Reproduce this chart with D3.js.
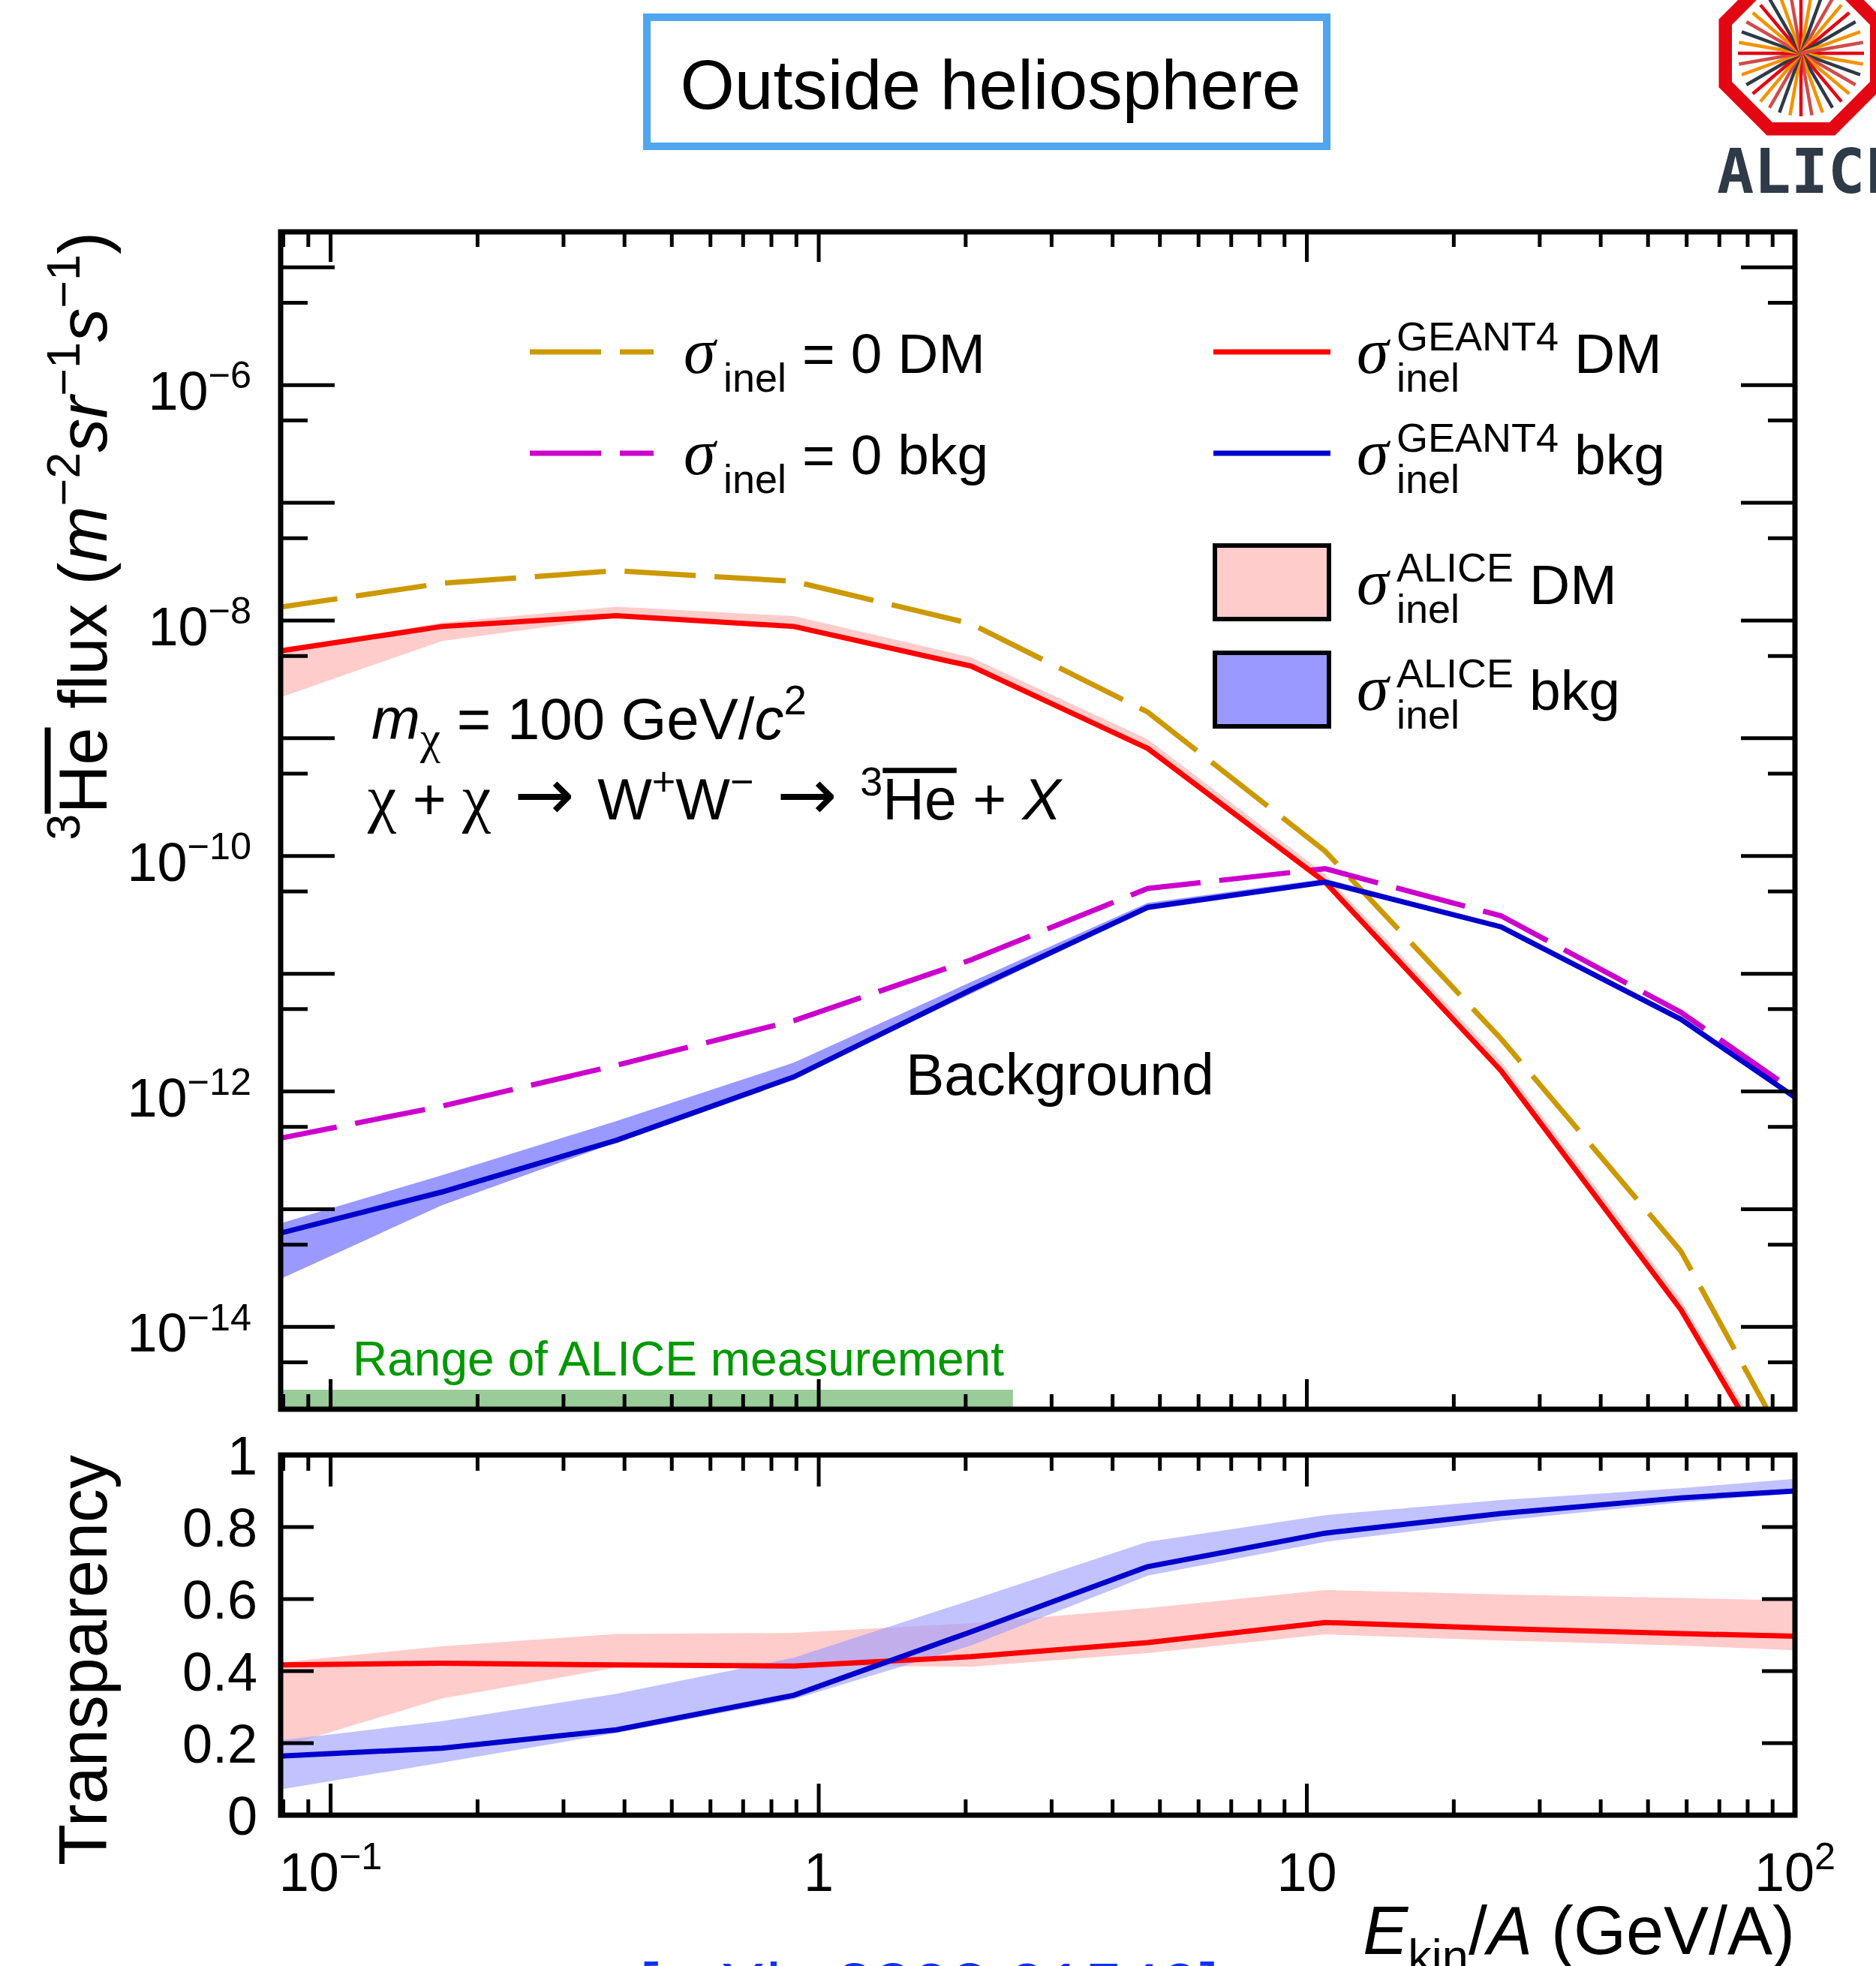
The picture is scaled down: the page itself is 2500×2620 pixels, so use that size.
<!DOCTYPE html>
<html>
<head>
<meta charset="utf-8">
<script src="https://cdn.jsdelivr.net/npm/d3@7"></script>
<style>
  html, body { margin: 0; padding: 0; background: #ffffff; }
  svg { display: block; }
  text { white-space: pre; }
</style>
</head>
<body>
<svg id="fig" width="2500" height="2620"></svg>
<script>
// ---------------------------------------------------------------
// Model points: kinetic energy per nucleon (GeV/A)
const energy = [0.074, 0.169, 0.385, 0.89, 2.05, 4.72, 10.9, 25.0, 58.4, 134];

// Antihelium-3 flux outside the heliosphere (m^-2 sr^-1 s^-1)
const fluxDMNoAbs   = [1.25e-8, 2.07e-8, 2.65e-8, 2.15e-8, 9.4e-9, 1.67e-9, 1.1e-10, 2.8e-12, 4.4e-14, 8e-17];
const fluxBkgNoAbs  = [3.8e-13, 7.5e-13, 1.67e-12, 4.0e-12, 1.31e-11, 5.3e-11, 7.8e-11, 3.1e-11, 4.7e-12, 4.3e-13];
const fluxDMGeant4  = [5.3e-9, 8.9e-9, 1.1e-8, 8.9e-9, 4.1e-9, 8.2e-10, 6.0e-11, 1.5e-12, 1.4e-14, 4e-17];
const fluxBkgGeant4 = [5.85e-14, 1.4e-13, 3.85e-13, 1.33e-12, 7.3e-12, 3.66e-11, 6.0e-11, 2.5e-11, 4.1e-12, 3.9e-13];
const fluxDMAliceHigh  = [5.3e-9, 9.6e-9, 1.31e-8, 1.09e-8, 4.87e-9, 9.8e-10, 7.0e-11, 1.8e-12, 1.7e-14, 5e-17];
const fluxDMAliceLow   = [2.03e-9, 6.7e-9, 1.06e-8, 8.7e-9, 3.9e-9, 7.7e-10, 5.6e-11, 1.4e-12, 1.3e-14, 3.7e-17];
const fluxBkgAliceHigh = [7.0e-14, 1.94e-13, 5.6e-13, 1.76e-12, 8.5e-12, 4.0e-11, 6.4e-11, 2.6e-11, 4.2e-12, 4.0e-13];
const fluxBkgAliceLow  = [2.26e-14, 1.08e-13, 3.7e-13, 1.3e-12, 6.75e-12, 3.5e-11, 5.8e-11, 2.44e-11, 4.04e-12, 3.9e-13];

// Transparency of the Galaxy to antihelium-3
const transDMGeant4  = [0.417, 0.422, 0.417, 0.414, 0.44, 0.479, 0.535, 0.518, 0.504, 0.493];
const transDMHigh    = [0.42, 0.469, 0.503, 0.506, 0.533, 0.575, 0.625, 0.613, 0.603, 0.592];
const transDMLow     = [0.177, 0.324, 0.41, 0.415, 0.412, 0.45, 0.502, 0.485, 0.471, 0.451];
const transBkgGeant4 = [0.162, 0.186, 0.237, 0.333, 0.509, 0.69, 0.783, 0.8375, 0.881, 0.9105];
const transBkgHigh   = [0.203, 0.261, 0.337, 0.4375, 0.597, 0.759, 0.833, 0.875, 0.908, 0.948];
const transBkgLow    = [0.065, 0.146, 0.228, 0.322, 0.471, 0.665, 0.759, 0.818, 0.868, 0.908];

// Energy range covered by the ALICE measurement (GeV/A)
const aliceRange = [0.079, 2.5];

// Axis ticks and labels
const xMajorTicks = [0.1, 1, 10, 100];
const xTickLabels = [["10", "\u22121"], ["1", ""], ["10", ""], ["10", "2"]];
const fluxLabelExponents = [-14, -12, -10, -8, -6];
const transTicks = [0, 0.2, 0.4, 0.6, 0.8, 1];
const transTickLabels = ["0", "0.2", "0.4", "0.6", "0.8", "1"];

// ---------------------------------------------------------------
const SANS = "'Liberation Sans', Arial, Helvetica, sans-serif";
const SERIF = "'Liberation Serif', 'Times New Roman', serif";
const ARROW = "'DejaVu Sans', sans-serif";
const C = {
  gold: "#cc9900", magenta: "#cc00cc", red: "#ff0000", blue: "#0000cc",
  pink: "#ffcccc", lilac: "#9999ff", green: "#009900", greenBand: "#99cc99"
};

const svg = d3.select("#fig");
const M = { left: 374, right: 2392, top: 309, bottom: 1878 };
const R = { top: 1939, bottom: 2419 };

const x = d3.scaleLog().domain([0.079, 100]).range([M.left, M.right]);
const yFlux = d3.scaleLog().domain([2e-15, 2e-5]).range([M.bottom, M.top]);
const yTrans = d3.scaleLinear().domain([0, 1]).range([R.bottom, R.top]);

// rich text: parts are strings or {t, sup, sub, it, fam, ovl, scale}
function rich(parent, px, py, parts, opt) {
  const size = opt.size;
  const t = parent.append("text").attr("x", px).attr("y", py)
    .attr("font-family", opt.fam || SANS).attr("font-size", size)
    .attr("text-anchor", opt.anchor || "start").attr("fill", opt.fill || "#000");
  let shift = 0;
  const over = [];
  parts.forEach(p => {
    const q = typeof p === "string" ? { t: p } : p;
    let off = 0, fs = size * (q.scale ?? 1);
    if (q.sup) { off = -(q.raise ?? 0.42) * size; fs = size * (q.scale ?? 0.7); }
    if (q.sub) { off = (q.drop ?? 0.25) * size; fs = size * (q.scale ?? 0.7); }
    const ts = t.append("tspan").text(q.t).attr("font-size", fs).attr("dy", off - shift);
    if (q.it) ts.attr("font-style", "italic");
    if (q.fam) ts.attr("font-family", q.fam);
    if (q.ovl) over.push(ts);
    shift = off;
  });
  over.forEach(ts => {
    const n = ts.node(), len = n.getNumberOfChars();
    const a = n.getStartPositionOfChar(0), b = n.getEndPositionOfChar(len - 1);
    const yy = a.y - 0.716 * size - (opt.ovlGap ?? 0.13 * size);
    parent.append("line").attr("x1", a.x).attr("x2", b.x).attr("y1", yy).attr("y2", yy)
      .attr("stroke", opt.fill || "#000").attr("stroke-width", opt.ovlW ?? 0.085 * size);
  });
  return t;
}

// ---------------------------------------------------------------
// Title box
svg.append("rect").attr("x", 862).attr("y", 23).attr("width", 906).attr("height", 172)
  .attr("fill", "#fff").attr("stroke", "#4fa6ee").attr("stroke-width", 10);
svg.append("text").attr("x", 1320).attr("y", 145).attr("text-anchor", "middle")
  .attr("font-family", SANS).attr("font-size", 93).text("Outside heliosphere");

// ALICE logo
const logoCenter = [2400, 71];
const spokeAngles = d3.range(0, 360, 10);
const spokeColors = ["#e30613", "#f39200", "#2e3a46", "#d24b4b", "#f39200", "#e30613", "#2e3a46", "#f39200", "#d24b4b"];
const logo = svg.append("g").attr("transform", `translate(${logoCenter[0]},${logoCenter[1]})`);
const octagon = (ap) => {
  const r = ap / Math.cos(Math.PI / 8);
  return d3.range(8).map(k => {
    const a = Math.PI / 8 + k * Math.PI / 4;
    return [r * Math.cos(a), r * Math.sin(a)];
  });
};
logo.append("polygon").attr("points", octagon(109.5).join(" ")).attr("fill", "#e30613");
logo.append("polygon").attr("points", octagon(92).join(" ")).attr("fill", "#fff");
logo.selectAll("line.spoke").data(spokeAngles).join("line").attr("class", "spoke")
  .attr("x1", 0).attr("y1", 0)
  .attr("x2", a => 84 * Math.cos(a * Math.PI / 180))
  .attr("y2", a => 84 * Math.sin(a * Math.PI / 180))
  .attr("stroke", (a, i) => spokeColors[i % spokeColors.length])
  .attr("stroke-width", 4.5);
svg.append("text").attr("x", 2288).attr("y", 257)
  .attr("font-family", "'DejaVu Sans Mono', monospace").attr("font-weight", "bold")
  .attr("font-size", 82).attr("fill", "#2e3a47").text("ALICE");

// ---------------------------------------------------------------
// Clip regions
const defs = svg.append("defs");
defs.append("clipPath").attr("id", "clipMain").append("rect")
  .attr("x", M.left).attr("y", M.top).attr("width", M.right - M.left).attr("height", M.bottom - M.top);
defs.append("clipPath").attr("id", "clipRatio").append("rect")
  .attr("x", M.left).attr("y", R.top).attr("width", M.right - M.left).attr("height", R.bottom - R.top);

// ---------------------------------------------------------------
// Upper panel: flux
const gMain = svg.append("g").attr("clip-path", "url(#clipMain)");

gMain.append("rect")
  .attr("x", x(aliceRange[0])).attr("width", x(aliceRange[1]) - x(aliceRange[0]))
  .attr("y", M.bottom - 26).attr("height", 26).attr("fill", C.greenBand);

const bandF = (lo, hi) => d3.area()
  .x((d, i) => x(energy[i])).y0((d, i) => yFlux(lo[i])).y1((d, i) => yFlux(hi[i]))(energy);
const lineF = (vals, ys) => d3.line().x((d, i) => x(energy[i])).y((d, i) => ys(vals[i]))(energy);

gMain.append("path").attr("d", bandF(fluxDMAliceLow, fluxDMAliceHigh)).attr("fill", C.pink);
gMain.append("path").attr("d", bandF(fluxBkgAliceLow, fluxBkgAliceHigh)).attr("fill", C.lilac);

const stroke = (p, col, dashed) => {
  p.attr("fill", "none").attr("stroke", col).attr("stroke-width", 7);
  if (dashed) p.attr("stroke-dasharray", "95,25");
};
stroke(gMain.append("path").attr("d", lineF(fluxDMNoAbs, yFlux)), C.gold, true);
stroke(gMain.append("path").attr("d", lineF(fluxBkgNoAbs, yFlux)), C.magenta, true);
stroke(gMain.append("path").attr("d", lineF(fluxDMGeant4, yFlux)), C.red, false);
stroke(gMain.append("path").attr("d", lineF(fluxBkgGeant4, yFlux)), C.blue, false);

// ---------------------------------------------------------------
// Lower panel: transparency
const gRatio = svg.append("g").attr("clip-path", "url(#clipRatio)");
const bandT = (lo, hi) => d3.area()
  .x((d, i) => x(energy[i])).y0((d, i) => yTrans(lo[i])).y1((d, i) => yTrans(hi[i]))(energy);
gRatio.append("path").attr("d", bandT(transDMLow, transDMHigh)).attr("fill", C.pink);
gRatio.append("path").attr("d", bandT(transBkgLow, transBkgHigh)).attr("fill", C.lilac).attr("fill-opacity", 0.6);
stroke(gRatio.append("path").attr("d", lineF(transDMGeant4, yTrans)), C.red, false);
stroke(gRatio.append("path").attr("d", lineF(transBkgGeant4, yTrans)), C.blue, false);

// ---------------------------------------------------------------
// Frames and ticks
const axes = svg.append("g").attr("stroke", "#000").attr("fill", "none");
const tick = (x1, y1, x2, y2) => axes.append("line")
  .attr("x1", x1).attr("y1", y1).attr("x2", x2).attr("y2", y2).attr("stroke-width", 5);

const xMinor = [];
[0.01, 0.1, 1, 10].forEach(d => d3.range(2, 10).forEach(k => {
  const v = d * k;
  if (v > x.domain()[0] && v < x.domain()[1]) xMinor.push(v);
}));

function xTicks(top, bottom, big, small) {
  xMajorTicks.forEach(v => { tick(x(v), bottom, x(v), bottom - big); tick(x(v), top, x(v), top + big); });
  xMinor.forEach(v => { tick(x(v), bottom, x(v), bottom - small); tick(x(v), top, x(v), top + small); });
}
xTicks(M.top, M.bottom, 40, 20);
xTicks(R.top, R.bottom, 42, 21);

// flux axis: long ticks each decade, short ticks at 5 x 10^n
d3.range(-15, -4).forEach(e => {
  const v1 = Math.pow(10, e), v5 = 5 * Math.pow(10, e);
  [[v1, 72], [v5, 36]].forEach(([v, len]) => {
    if (v >= yFlux.domain()[0] && v <= yFlux.domain()[1]) {
      tick(M.left, yFlux(v), M.left + len, yFlux(v));
      tick(M.right, yFlux(v), M.right - len, yFlux(v));
    }
  });
});
transTicks.forEach(v => {
  tick(M.left, yTrans(v), M.left + 44, yTrans(v));
  tick(M.right, yTrans(v), M.right - 44, yTrans(v));
});

axes.append("rect").attr("x", M.left).attr("y", M.top)
  .attr("width", M.right - M.left).attr("height", M.bottom - M.top).attr("stroke-width", 7);
axes.append("rect").attr("x", M.left).attr("y", R.top)
  .attr("width", M.right - M.left).attr("height", R.bottom - R.top).attr("stroke-width", 7);

// ---------------------------------------------------------------
// Tick labels
fluxLabelExponents.forEach(e => {
  const yy = yFlux(Math.pow(10, e));
  rich(svg, 335, yy + 33, ["10", { t: "\u2212" + Math.abs(e), sup: true, raise: 0.4 }], { size: 72, anchor: "end" });
});
transTicks.forEach((v, i) => {
  rich(svg, 343, yTrans(v) + 26, [transTickLabels[i]], { size: 72, anchor: "end" });
});
xMajorTicks.forEach((v, i) => {
  const [b, e] = xTickLabels[i];
  const parts = e ? [b, { t: e, sup: true, raise: 0.4 }] : [b];
  rich(svg, x(v), 2520, parts, { size: 72, anchor: "middle" });
});

// Axis titles
rich(svg, M.right, 2604, [{ t: "E", it: true }, { t: "kin", sub: true, drop: 0.28 }, { t: "/" }, { t: "A", it: true }, " (GeV/A)"],
  { size: 90, anchor: "end" });
const gYT = svg.append("g").attr("transform", `translate(142,${M.top}) rotate(-90)`);
rich(gYT, 0, 0, [{ t: "3", sup: true, raise: 0.4 }, { t: "He", ovl: true }, " flux (", { t: "m", it: true },
  { t: "\u22122", sup: true, raise: 0.4 }, { t: "sr", it: true }, { t: "\u22121", sup: true, raise: 0.4 },
  { t: "s", it: true }, { t: "\u22121", sup: true, raise: 0.4 }, ")"], { size: 90, anchor: "end", ovlGap: 14, ovlW: 8 });
const gRT = svg.append("g").attr("transform", `translate(142,${R.top}) rotate(-90)`);
rich(gRT, 0, 0, ["Transparency"], { size: 90, anchor: "end" });

// ---------------------------------------------------------------
// Legend
function sigmaLabel(px, py, sup, sub, rest) {
  svg.append("text").attr("x", px).attr("y", py).attr("font-family", SERIF)
    .attr("font-style", "italic").attr("font-size", 86).text("\u03C3");
  const sx = px + 53;
  let w = 0;
  if (sup) {
    const t = svg.append("text").attr("x", sx).attr("y", py - 30).attr("font-family", SANS)
      .attr("font-size", 54).text(sup);
    w = Math.max(w, t.node().getComputedTextLength());
  }
  if (sub) {
    const t = svg.append("text").attr("x", sx).attr("y", py + 25).attr("font-family", SANS)
      .attr("font-size", 54).text(sub);
    w = Math.max(w, t.node().getComputedTextLength());
  }
  svg.append("text").attr("x", sx + w + 21).attr("y", py).attr("font-family", SANS)
    .attr("font-size", 75).text(rest);
}
const legendLine = (yy, col, dashed) => {
  const l = svg.append("line").attr("x1", dashed ? 706 : 1617).attr("x2", dashed ? 871 : 1773)
    .attr("y1", yy).attr("y2", yy);
  stroke(l, col, dashed);
};
legendLine(469, C.gold, true);
legendLine(604, C.magenta, true);
sigmaLabel(911, 497, null, "inel", "= 0 DM");
sigmaLabel(911, 632, null, "inel", "= 0 bkg");

legendLine(469, C.red, false);
legendLine(604, C.blue, false);
sigmaLabel(1808, 497, "GEANT4", "inel", "DM");
sigmaLabel(1808, 632, "GEANT4", "inel", "bkg");

svg.append("rect").attr("x", 1619).attr("y", 727).attr("width", 152).attr("height", 98)
  .attr("fill", C.pink).attr("stroke", "#000").attr("stroke-width", 6);
svg.append("rect").attr("x", 1619).attr("y", 870).attr("width", 152).attr("height", 98)
  .attr("fill", C.lilac).attr("stroke", "#000").attr("stroke-width", 6);
sigmaLabel(1808, 805, "ALICE", "inel", "DM");
sigmaLabel(1808, 946, "ALICE", "inel", "bkg");

// ---------------------------------------------------------------
// Annotations
rich(svg, 495, 985, [{ t: "m", it: true }, { t: "\u03C7", sub: true, fam: SERIF, drop: 0.24, scale: 0.78 }, " = 100 GeV/",
  { t: "c", it: true }, { t: "2", sup: true, raise: 0.42 }], { size: 78 });
rich(svg, 490, 1092, [{ t: "\u03C7", fam: SERIF, scale: 1.12 }, " + ", { t: "\u03C7", fam: SERIF, scale: 1.12 },
  { t: " \u2192 ", fam: ARROW, scale: 1.25 }, "W",
  { t: "+", sup: true, raise: 0.42 }, { t: "W" }, { t: "\u2212", sup: true, raise: 0.42 },
  { t: " \u2192 ", fam: ARROW, scale: 1.25 },
  { t: "3", sup: true, raise: 0.42 }, { t: "He", ovl: true }, " + ", { t: "X", it: true }], { size: 77, ovlGap: 10, ovlW: 7 });

svg.append("text").attr("x", 1207).attr("y", 1459).attr("font-family", SANS)
  .attr("font-size", 77).text("Background");
svg.append("text").attr("x", 470).attr("y", 1833).attr("font-family", SANS)
  .attr("font-size", 64).attr("fill", C.green).text("Range of ALICE measurement");

// Reference
svg.append("text").attr("x", 852).attr("y", 2681).attr("font-family", SANS)
  .attr("font-size", 92).attr("fill", "#1030ff").text("[arXiv:2202.01549]");
</script>
</body>
</html>
